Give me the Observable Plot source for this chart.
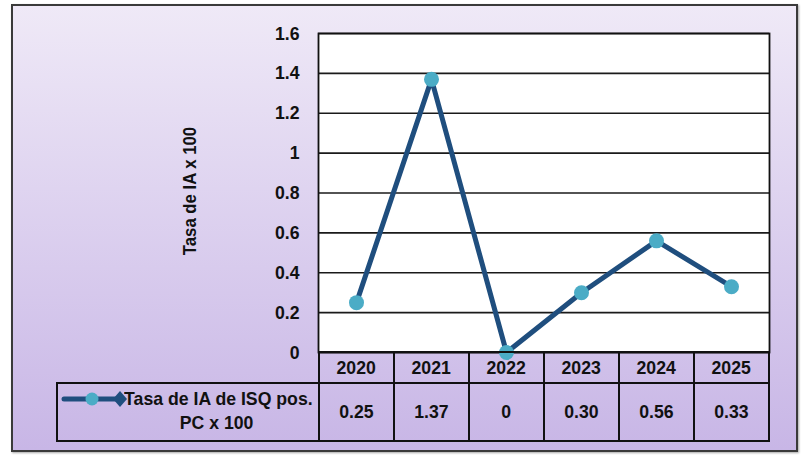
<!DOCTYPE html>
<html>
<head>
<meta charset="utf-8">
<script src="https://cdn.jsdelivr.net/npm/d3@7"></script>
<script src="https://cdn.jsdelivr.net/npm/@observablehq/plot@0.6"></script>
<style>
  html, body { margin: 0; padding: 0; background: #fff; }
  #wrap { position: relative; width: 802px; height: 455px; overflow: hidden;
          font-family: "Liberation Sans", Arial, sans-serif; font-weight: bold; color: #111; }
  #bg { position: absolute; left: 11px; top: 4px; width: 787px; height: 448px; box-sizing: border-box;
        border: 2px solid #3a3a3a; background: linear-gradient(to bottom, #efe9f7, #c8b6e6);
        box-shadow: 1px 1px 2px rgba(0,0,0,0.35); }
  #plot { position: absolute; left: 0; top: 0; }
  .cell { position: absolute; box-sizing: border-box; border: 2px solid #111;
          display: flex; align-items: center; justify-content: center; font-size: 19px; }
  .nar { display: inline-block; transform: scaleX(0.93); white-space: nowrap; }
</style>
</head>
<body>
<div id="wrap"><div id="bg"></div><div id="plot"></div></div>
<script>
// ---- data ----
const years = ["2020", "2021", "2022", "2023", "2024", "2025"];
const values = [0.25, 1.37, 0, 0.30, 0.56, 0.33];
const valueLabels = ["0.25", "1.37", "0", "0.30", "0.56", "0.33"];
const yTicks = [0, 0.2, 0.4, 0.6, 0.8, 1, 1.2, 1.4, 1.6];
const yTickLabels = ["0", "0.2", "0.4", "0.6", "0.8", "1", "1.2", "1.4", "1.6"];
const yTitle = "Tasa de IA x 100";
const seriesName = "Tasa de IA de ISQ pos. PC x 100";
const seriesLines = ["Tasa de IA de ISQ pos.", "PC x 100"];

const data = years.map((y, i) => ({year: y, value: values[i]}));
const lineColor = "#1f4e7e";
const dotColor = "#4bacc6";
const font = '"Liberation Sans", Arial, sans-serif';
const narrow = 0.93;

const chart = Plot.plot({
  width: 802,
  height: 455,
  marginLeft: 318,
  marginRight: 33,
  marginTop: 33,
  marginBottom: 103,
  style: {background: "transparent", fontFamily: font, fontWeight: "bold", color: "#111", overflow: "visible"},
  x: {type: "point", domain: years, padding: 0.5, axis: null},
  y: {domain: [0, 1.6], axis: null},
  marks: [
    Plot.frame({fill: "white", stroke: null}),
    Plot.ruleY(yTicks, {stroke: "#1a1a1a", strokeWidth: 1.6}),
    Plot.frame({stroke: "#111", strokeWidth: 1.8}),
    Plot.axisY(yTicks, {
      tickSize: 0, tickPadding: 19, fontSize: 19, fontWeight: "bold", fill: "#111",
      tickFormat: (d) => yTickLabels[yTicks.indexOf(d)], label: null
    }),
    Plot.text([yTitle], {frameAnchor: "left", textAnchor: "middle", dx: -128, dy: -2, rotate: -90,
      fontSize: 18, fontWeight: "bold", fill: "#111"}),
    Plot.line(data, {x: "year", y: "value", stroke: lineColor, strokeWidth: 5, strokeLinejoin: "miter"}),
    Plot.dot(data, {x: "year", y: "value", r: 7.5, fill: dotColor, stroke: null})
  ]
});
// condense the glyphs horizontally (the original uses a narrow bold face)
chart.querySelectorAll("text").forEach((t) => {
  const x = parseFloat(t.getAttribute("x") || "0") || 0;
  t.removeAttribute("x");
  const tr = t.getAttribute("transform") || "";
  t.setAttribute("transform", `${tr} translate(${x},0) scale(${narrow},1)`.trim());
});
document.getElementById("plot").appendChild(chart);

// ---- data table under the plot, positioned with the chart's own scales ----
const xs = chart.scale("x");
const ys = chart.scale("y");
const step = xs.apply(years[1]) - xs.apply(years[0]);
const top0 = ys.apply(0);
const headerH = 31, rowH = 58;
const legendLeft = 57;
const wrap = document.getElementById("wrap");

function cell(left, top, w, h, html, extra) {
  const d = document.createElement("div");
  d.className = "cell";
  d.style.left = (left - 1) + "px";
  d.style.top = (top - 1) + "px";
  d.style.width = (w + 2) + "px";
  d.style.height = (h + 2) + "px";
  if (extra) Object.assign(d.style, extra);
  d.innerHTML = html;
  wrap.appendChild(d);
  return d;
}

years.forEach((yr, i) => {
  const cx = xs.apply(yr);
  cell(cx - step / 2, top0, step, headerH, `<span class="nar">${yr}</span>`);
  cell(cx - step / 2, top0 + headerH, step, rowH, `<span class="nar">${valueLabels[i]}</span>`);
});

const plotLeft = xs.apply(years[0]) - step / 2;
const leg = cell(legendLeft, top0 + headerH, plotLeft - legendLeft, rowH, "", {display: "block"});
leg.innerHTML = `
  <svg width="64" height="22" style="position:absolute;left:3px;top:4px;overflow:visible">
    <line x1="3" y1="11" x2="58" y2="11" stroke="${lineColor}" stroke-width="5" stroke-linecap="round"/>
    <circle cx="31" cy="11" r="6.5" fill="${dotColor}"/>
    <path d="M59,3 L66,11 L59,19 L52,11 Z" fill="${lineColor}"/>
  </svg>
  <div style="position:absolute;left:59px;width:200px;top:3px;text-align:center;font-size:19px;line-height:24px;">
    ${seriesLines.map((s) => `<span class="nar">${s}</span>`).join("<br>")}
  </div>`;
leg.setAttribute("title", seriesName);
</script>
</body>
</html>
